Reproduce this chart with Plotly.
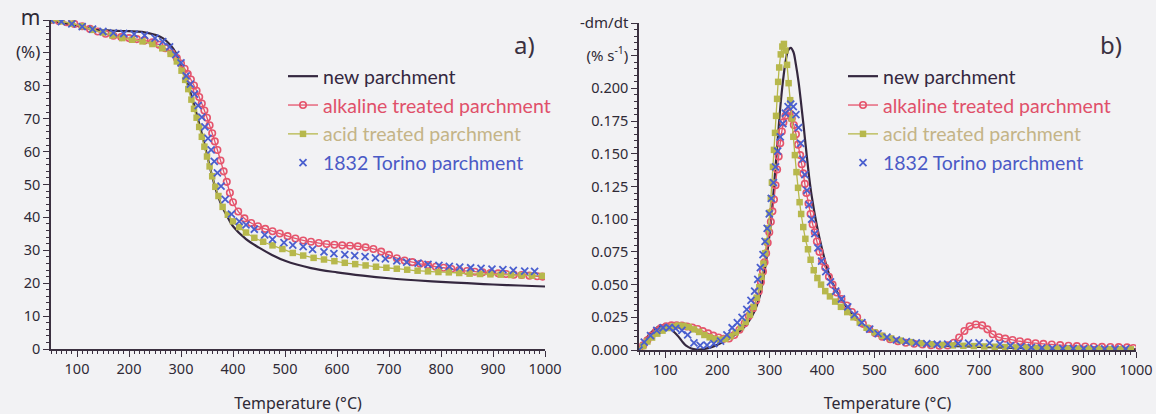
import plotly.graph_objects as go

# ---------------- panel a: TG curves (m, %) ----------------
T_new_a = [50, 75, 100, 125, 150, 175, 200, 225, 250, 265, 280, 290, 300, 310, 320, 330, 340, 350, 360, 370,
           380, 390, 400, 425, 450, 475, 500, 550, 600, 650, 700, 750, 800, 850, 900, 950, 1000]
m_new = [100, 99.0, 98.2, 97.4, 96.9, 96.7, 96.6, 96.4, 95.5, 94.5, 92.3, 90.0, 86.5, 82.0, 77.0, 71.5, 65.5,
         59.0, 52.5, 47.0, 43.0, 40.0, 37.3, 33.4, 30.8, 28.6, 26.8, 24.6, 23.3, 22.3, 21.5, 20.9, 20.4, 20.0,
         19.6, 19.3, 19.0]

T_alk_a = [50, 65, 80, 95, 110, 125, 140, 155, 170, 185, 200, 215, 230, 245, 258, 270, 282, 292, 300, 307, 313,
           319, 325, 330, 335, 340, 345, 350, 355, 360, 365, 370, 376, 382, 388, 394, 400, 410, 422, 435, 448,
           462, 476, 490, 505, 520, 535, 550, 565, 580, 595, 610, 625, 640, 655, 670, 685, 700, 715, 730, 745,
           760, 775, 790, 805, 820, 835, 850, 865, 880, 895, 910, 925, 940, 955, 970, 985, 995]
m_alk = [100, 99.7, 99.3, 98.8, 98.1, 97.3, 96.5, 95.8, 95.2, 94.8, 94.5, 94.2, 93.8, 93.2, 92.5, 91.4, 89.9,
         88.4, 86.8, 85.2, 83.6, 81.9, 80.1, 78.5, 76.6, 74.6, 72.5, 70.3, 68.0, 65.6, 63.1, 60.5, 57.3, 54.0,
         50.8, 47.5, 44.6, 41.8, 39.7, 38.3, 37.3, 36.5, 35.8, 35.1, 34.3, 33.6, 33.0, 32.6, 32.2, 31.9, 31.7,
         31.5, 31.4, 31.2, 30.9, 30.4, 29.6, 28.6, 27.6, 26.9, 26.4, 25.9, 25.5, 25.0, 24.7, 24.3, 24.0, 23.7,
         23.5, 23.3, 23.1, 23.0, 22.8, 22.6, 22.5, 22.3, 22.1, 22.0]

T_acid_a = [52, 70, 90, 110, 130, 150, 168, 187, 206, 226, 245, 264, 280, 292, 301, 308, 314, 320, 325, 330,
            335, 340, 345, 350, 355, 360, 366, 372, 380, 390, 400, 412, 425, 441, 458, 476, 495, 515, 535, 555,
            575, 595, 615, 635, 655, 675, 695, 715, 735, 755, 775, 795, 815, 835, 855, 875, 895, 915, 935, 955,
            975, 995]
m_acid = [100, 99.6, 98.9, 98.1, 97.0, 96.2, 95.3, 94.5, 94.0, 93.5, 92.7, 91.4, 89.7, 87.4, 84.6, 81.8, 79.0,
          75.8, 73.0, 70.3, 67.5, 64.5, 61.5, 58.5, 55.5, 52.5, 49.3, 46.5, 43.2, 40.8, 38.8, 37.1, 35.4, 33.8,
          32.6, 31.5, 30.4, 29.2, 28.4, 27.7, 27.2, 26.7, 26.2, 25.8, 25.4, 25.0, 24.7, 24.4, 24.1, 23.8, 23.6,
          23.4, 23.3, 23.1, 22.9, 22.8, 22.7, 22.6, 22.5, 22.4, 22.3, 22.2]

T_tor_a = [50, 70, 90, 110, 130, 150, 170, 190, 210, 230, 250, 265, 278, 290, 300, 310, 318, 326, 333, 340, 346,
           352, 358, 364, 370, 377, 385, 397, 412, 425, 441, 461, 476, 498, 515, 535, 553, 575, 594, 615, 634,
           654, 674, 693, 715, 734, 756, 775, 796, 816, 836, 857, 877, 898, 919, 939, 961, 980]
m_tor = [100, 99.5, 98.8, 98.0, 97.2, 96.5, 96.1, 95.9, 95.7, 95.3, 94.5, 93.4, 91.8, 89.5, 87.0, 83.0, 80.5,
         77.5, 74.0, 70.5, 67.5, 64.0, 60.5, 57.0, 53.5, 49.5, 45.5, 41.0, 38.8, 37.7, 36.4, 34.7, 33.3, 32.3,
         31.6, 31.1, 30.3, 29.5, 29.0, 28.7, 28.4, 28.1, 27.7, 27.4, 26.8, 26.4, 26.1, 25.7, 25.4, 25.1, 24.9,
         24.7, 24.5, 24.3, 24.1, 23.9, 23.7, 23.6]

# ---------------- panel b: DTG curves (-dm/dt, % s-1) ----------------
T_new_b = [50, 55, 60, 65, 70, 80, 90, 100, 108, 115, 125, 132, 140, 150, 160, 170, 180, 190, 200, 210, 220,
           230, 240, 250, 260, 270, 280, 290, 300, 305, 310, 315, 320, 325, 330, 335, 340, 345, 350, 355, 360,
           365, 370, 375, 380, 390, 400, 410, 420, 435, 450, 465, 480, 500, 525, 550, 600, 650, 700, 750, 800,
           850, 900, 950, 1000]
d_new = [0.0, 0.003, 0.0065, 0.0095, 0.012, 0.016, 0.0185, 0.0187, 0.0168, 0.0145, 0.0104, 0.0068, 0.0033,
         0.0012, 0.0004, 0.0005, 0.0012, 0.0024, 0.004, 0.006, 0.0082, 0.0107, 0.0135, 0.017, 0.022, 0.029,
         0.040, 0.060, 0.090, 0.110, 0.135, 0.160, 0.185, 0.205, 0.220, 0.229, 0.231, 0.228, 0.218, 0.205,
         0.188, 0.170, 0.151, 0.133, 0.118, 0.095, 0.077, 0.062, 0.051, 0.040, 0.031, 0.024, 0.018, 0.0125,
         0.0082, 0.0062, 0.0043, 0.0031, 0.0024, 0.0018, 0.0013, 0.0010, 0.0008, 0.0006, 0.0005]

T_alk_b = [50, 58, 66, 74, 83, 92, 102, 112, 122, 132, 142, 152, 162, 172, 182, 192, 202, 212, 222, 232, 242,
           252, 260, 268, 274, 279, 283, 287, 290, 293, 296, 299, 302, 305, 308, 311, 314, 317, 320, 323, 326,
           330, 334, 338, 342, 346, 350, 354, 358, 361, 364, 367, 370, 374, 378, 382, 386, 390, 395, 400, 406,
           413, 420, 428, 437, 447, 457, 467, 478, 490, 502, 515, 530, 545, 560, 576, 592, 608, 624, 640, 652,
           662, 672, 682, 694, 706, 716, 726, 738, 750, 764, 778, 793, 808, 823, 839, 855, 871, 887, 903, 919,
           935, 951, 967, 983, 995]
d_alk = [0.0, 0.0035, 0.0075, 0.011, 0.0145, 0.0168, 0.0182, 0.0188, 0.0189, 0.0186, 0.018, 0.0171, 0.016,
         0.0144, 0.0127, 0.011, 0.0095, 0.0086, 0.0088, 0.0115, 0.0155, 0.0205, 0.026, 0.032, 0.038, 0.045,
         0.052, 0.060, 0.067, 0.074, 0.082, 0.090, 0.098, 0.106, 0.115, 0.126, 0.138, 0.148, 0.158, 0.167,
         0.174, 0.179, 0.182, 0.181, 0.177, 0.172, 0.165, 0.157, 0.149, 0.142, 0.135, 0.127, 0.120, 0.112,
         0.104, 0.096, 0.090, 0.083, 0.075, 0.068, 0.063, 0.056, 0.050, 0.044, 0.039, 0.034, 0.029, 0.025,
         0.020, 0.0160, 0.0128, 0.0102, 0.0082, 0.0067, 0.0056, 0.0048, 0.0042, 0.0037, 0.0033, 0.0035,
         0.0055, 0.0095, 0.0145, 0.0182, 0.0195, 0.0188, 0.0158, 0.0120, 0.0097, 0.0087, 0.0077, 0.0067,
         0.0058, 0.0052, 0.0047, 0.0042, 0.0037, 0.0033, 0.0030, 0.0027, 0.0025, 0.0024, 0.0023, 0.0022,
         0.0020, 0.0015]

T_acid_b = [50, 58, 66, 75, 85, 95, 105, 115, 125, 135, 145, 155, 165, 175, 185, 195, 205, 215, 225, 235, 245,
            254, 262, 269, 275, 280, 284, 288, 291, 294, 297, 300, 302, 304, 306, 308, 310, 312, 314, 316, 318,
            321, 324, 327, 330, 333, 336, 339, 342, 345, 348, 351, 354, 357, 360, 364, 368, 373, 378, 384, 391,
            398, 406, 415, 425, 436, 448, 460, 472, 485, 500, 515, 532, 550, 570, 590, 610, 630, 650, 670, 690,
            710, 730, 750, 770, 790, 810, 830, 850, 870, 890, 910, 930, 950, 970, 990]
d_acid = [0.0, 0.003, 0.0065, 0.0095, 0.0125, 0.0148, 0.0168, 0.018, 0.0187, 0.0185, 0.0176, 0.0158, 0.0138,
          0.0115, 0.0097, 0.0085, 0.0079, 0.0085, 0.0105, 0.0135, 0.0175, 0.0215, 0.027, 0.033, 0.040, 0.048,
          0.056, 0.066, 0.074, 0.083, 0.093, 0.105, 0.116, 0.128, 0.140, 0.153, 0.166, 0.179, 0.192, 0.205,
          0.216, 0.226, 0.232, 0.234, 0.229, 0.218, 0.204, 0.191, 0.177, 0.163, 0.149, 0.136, 0.124, 0.113,
          0.104, 0.094, 0.085, 0.077, 0.069, 0.061, 0.055, 0.050, 0.045, 0.041, 0.037, 0.033, 0.029, 0.025,
          0.021, 0.017, 0.0135, 0.0108, 0.0088, 0.0072, 0.0060, 0.0051, 0.0044, 0.0039, 0.0035, 0.0032,
          0.0030, 0.0027, 0.0025, 0.0022, 0.0020, 0.0018, 0.0016, 0.0014, 0.0012, 0.0011, 0.0010, 0.0009,
          0.0008, 0.0007, 0.0006, 0.0005]

T_tor_b = [50, 60, 72, 84, 96, 108, 120, 132, 143, 155, 167, 180, 193, 206, 218, 228, 238, 247, 256, 264, 271,
           277, 282, 287, 291, 295, 299, 303, 307, 311, 315, 320, 325, 330, 335, 340, 345, 350, 355, 359, 363,
           367, 371, 375, 380, 386, 392, 399, 407, 416, 426, 437, 449, 462, 476, 491, 507, 524, 542, 561, 580,
           600, 620, 640, 660, 680, 700, 720, 740, 760, 780, 800, 820, 840, 860, 880, 900, 920, 940, 960, 980]
d_tor = [0.0, 0.006, 0.011, 0.015, 0.017, 0.0172, 0.0165, 0.015, 0.0115, 0.0055, 0.0035, 0.0037, 0.0048,
         0.0068, 0.0115, 0.017, 0.021, 0.025, 0.031, 0.038, 0.045, 0.054, 0.063, 0.073, 0.083, 0.093, 0.104,
         0.116, 0.128, 0.140, 0.152, 0.163, 0.173, 0.181, 0.186, 0.188, 0.186, 0.180, 0.170, 0.158, 0.146,
         0.134, 0.122, 0.111, 0.100, 0.089, 0.078, 0.068, 0.060, 0.052, 0.045, 0.039, 0.033, 0.027, 0.021,
         0.016, 0.0125, 0.0098, 0.0078, 0.0064, 0.0055, 0.0048, 0.0044, 0.0045, 0.0048, 0.0052, 0.0055,
         0.0053, 0.0045, 0.0033, 0.0025, 0.0020, 0.0017, 0.0015, 0.0013, 0.0012, 0.0011, 0.0010, 0.0009,
         0.0008, 0.0008]

names = ["new parchment", "alkaline treated parchment", "acid treated parchment", "1832 Torino parchment"]
x_ticks = [100, 200, 300, 400, 500, 600, 700, 800, 900, 1000]
ya_ticks = [0, 10, 20, 30, 40, 50, 60, 70, 80, 90, 100]
ya_text = ["0", "10", "20", "30", "40", "50", "60", "70", "80",
           "<span style='font-size:17px'>(%)</span>", "<span style='font-size:21px'>m</span>"]
yb_ticks = [0, 0.025, 0.05, 0.075, 0.1, 0.125, 0.15, 0.175, 0.2, 0.225, 0.25]
yb_text = ["0.000", "0.025", "0.050", "0.075", "0.100", "0.125", "0.150", "0.175", "0.200",
           "<span style='font-size:15px'>(% s<sup>-1</sup>)</span>", "<span style='font-size:15px'>-dm/dt</span>"]

C_NEW = "#35283f"
C_ALK = "#e5546c"
C_ACID = "#b7b84c"
C_TOR = "#4a5fcf"
TXT_ALK = "#e0506a"
TXT_ACID = "#c4b487"
TXT_TOR = "#4b5ac6"
AX = "#3b3140"
BG = "#f2f2f4"

fig = go.Figure()


def add_panel(xa, ya, leg, Tn, vn, Tal, val, Tac, vac, Tt, vt):
    fig.add_trace(go.Scatter(x=Tn, y=vn, mode="lines", line=dict(color=C_NEW, width=2.2, shape="spline"),
                             name="<span style='color:%s'>%s</span>" % (C_NEW, names[0]),
                             xaxis=xa, yaxis=ya, legend=leg, legendgroup=leg + "1"))
    fig.add_trace(go.Scatter(x=Tal, y=val, mode="lines+markers",
                             line=dict(color=C_ALK, width=1.3, shape="spline"),
                             marker=dict(symbol="circle-open", size=6.5, color=C_ALK, line=dict(width=1.6)),
                             name="<span style='color:%s'>%s</span>" % (TXT_ALK, names[1]),
                             xaxis=xa, yaxis=ya, legend=leg, legendgroup=leg + "2"))
    fig.add_trace(go.Scatter(x=Tac, y=vac, mode="lines+markers",
                             line=dict(color=C_ACID, width=1.3, shape="spline"),
                             marker=dict(symbol="square", size=6.5, color=C_ACID),
                             name="<span style='color:%s'>%s</span>" % (TXT_ACID, names[2]),
                             xaxis=xa, yaxis=ya, legend=leg, legendgroup=leg + "3"))
    fig.add_trace(go.Scatter(x=Tt, y=vt, mode="markers",
                             marker=dict(symbol="x-thin", size=7, color=C_TOR, line=dict(width=1.8, color=C_TOR)),
                             name="<span style='color:%s'>%s</span>" % (TXT_TOR, names[3]),
                             xaxis=xa, yaxis=ya, legend=leg, legendgroup=leg + "4"))


add_panel("x", "y", "legend", T_new_a, m_new, T_alk_a, m_alk, T_acid_a, m_acid, T_tor_a, m_tor)
add_panel("x2", "y2", "legend2", T_new_b, d_new, T_alk_b, d_alk, T_acid_b, d_acid, T_tor_b, d_tor)

FONT = "Noto Sans"
xcommon = dict(range=[50, 1000], tickvals=x_ticks, ticks="outside", ticklen=6, tickwidth=1.3, tickcolor=AX,
               showline=True, linecolor=AX, linewidth=1.5, showgrid=False, zeroline=False, automargin=False,
               tickfont=dict(family=FONT, size=14.5, color="#2f2a36"),
               minor=dict(dtick=10, ticks="outside", ticklen=3, tickcolor=AX, showgrid=False),
               title=dict(text="Temperature (°C)", font=dict(family=FONT, size=16, color="#2f2a36"), standoff=22))
ycommon = dict(ticks="outside", ticklen=6, tickwidth=1.3, tickcolor=AX, showline=True, linecolor=AX,
               linewidth=1.5, showgrid=False, zeroline=False, automargin=False,
               tickfont=dict(family=FONT, size=14.5, color="#2f2a36"))

fig.update_layout(
    template="none",
    width=1156, height=414, margin=dict(l=0, r=0, t=0, b=0, autoexpand=False),
    paper_bgcolor=BG, plot_bgcolor=BG,
    xaxis=dict(domain=[51 / 1156, 545 / 1156], anchor="y", **xcommon),
    yaxis=dict(domain=[65 / 414, 394 / 414], anchor="x", range=[0, 100], tickvals=ya_ticks, ticktext=ya_text,
               minor=dict(dtick=2, ticks="outside", ticklen=3, tickcolor=AX, showgrid=False), **ycommon),
    xaxis2=dict(domain=[639 / 1156, 1136 / 1156], anchor="y2", **xcommon),
    yaxis2=dict(domain=[64 / 414, 391 / 414], anchor="x2", range=[0, 0.25], tickvals=yb_ticks,
                ticktext=yb_text,
                minor=dict(dtick=0.005, ticks="outside", ticklen=3, tickcolor=AX, showgrid=False), **ycommon),
    legend=dict(x=283 / 1156, y=1 - 57 / 414, xanchor="left", yanchor="top", bgcolor="rgba(0,0,0,0)",
                font=dict(family="Lato", size=19.5), tracegroupgap=0.5, itemwidth=30, traceorder="grouped"),
    legend2=dict(x=843 / 1156, y=1 - 57 / 414, xanchor="left", yanchor="top", bgcolor="rgba(0,0,0,0)",
                 font=dict(family="Lato", size=19.5), tracegroupgap=0.5, itemwidth=30, traceorder="grouped"),
    annotations=[
        dict(text="a)", x=537 / 1156, y=1 - 44 / 414, xref="paper", yref="paper", showarrow=False,
             xanchor="right", yanchor="middle", font=dict(family=FONT, size=24, color="#3a3040")),
        dict(text="b)", x=1124 / 1156, y=1 - 44 / 414, xref="paper", yref="paper", showarrow=False,
             xanchor="right", yanchor="middle", font=dict(family=FONT, size=24, color="#3a3040")),
    ],
)

fig.write_html("out.html", config={"displayModeBar": False},
               post_script="document.body.style.margin='0';document.body.style.background='%s';" % BG)
